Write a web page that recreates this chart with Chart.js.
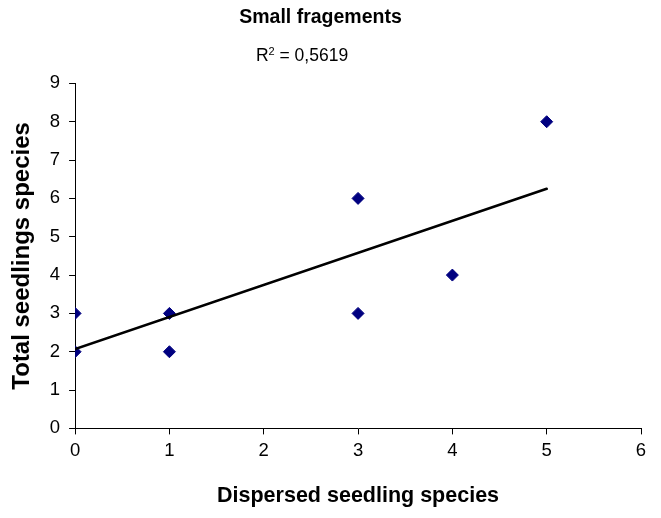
<!DOCTYPE html>
<html>
<head>
<meta charset="utf-8">
<script src="https://cdn.jsdelivr.net/npm/chart.js@4.4.0/dist/chart.umd.min.js"></script>
<style>
  body { margin: 0; background: #fff; }
  canvas { display: block; }
</style>
</head>
<body>
<canvas id="chart" width="661" height="518"></canvas>
<script>
// data
const dispersed = [0, 0, 1, 1, 3, 3, 4, 5];
const totalSpecies = [2, 3, 2, 3, 3, 6, 4, 8];
const trendX = [0, 5];
const trendY = [2.07, 6.25];
const rSquared = "0,5619";

const font = "'Liberation Sans', Arial, sans-serif";

const points = dispersed.map((x, i) => ({ x: x, y: totalSpecies[i] }));
const trend = trendX.map((x, i) => ({ x: x, y: trendY[i] }));

// R² label above the plot
const r2Label = {
    id: "r2Label",
    afterDraw(chart) {
        const ctx = chart.ctx;
        ctx.save();
        ctx.fillStyle = "#000";
        ctx.textBaseline = "alphabetic";
        ctx.textAlign = "left";
        ctx.font = "17.5px " + font;
        const rest = " = " + rSquared;
        const wR = ctx.measureText("R").width;
        const wRest = ctx.measureText(rest).width;
        ctx.font = "11px " + font;
        const w2 = ctx.measureText("2").width;
        const total = wR + w2 + wRest;
        let x = 302 - total / 2;
        const base = 61;
        ctx.font = "17.5px " + font;
        ctx.fillText("R", x, base);
        x += wR;
        ctx.font = "11px " + font;
        ctx.fillText("2", x, base - 6);
        x += w2;
        ctx.font = "17.5px " + font;
        ctx.fillText(rest, x, base);
        ctx.restore();
    }
};

new Chart(document.getElementById("chart"), {
    type: "scatter",
    data: {
        datasets: [
            {
                data: trend,
                type: "line",
                borderColor: "#000",
                borderWidth: 2.6,
                borderCapStyle: "round",
                pointRadius: 0,
                fill: false
            },
            {
                data: points,
                pointStyle: "rectRot",
                pointRadius: 6,
                pointBackgroundColor: "#000080",
                pointBorderColor: "#000080",
                pointBorderWidth: 1
            }
        ]
    },
    options: {
        responsive: false,
        animation: false,
        layout: { padding: { left: 0, right: 20, top: 0, bottom: 0 } },
        plugins: {
            legend: { display: false },
            tooltip: { enabled: false },
            title: {
                display: true,
                text: "Small fragements",
                color: "#000",
                font: { family: font, size: 19.5, weight: "bold" },
                padding: { top: 6, bottom: 54 }
            }
        },
        scales: {
            x: {
                type: "linear",
                min: 0,
                max: 6,
                ticks: { stepSize: 1, color: "#000", font: { family: font, size: 18.5 }, padding: 5 },
                grid: { drawOnChartArea: false, color: "#000", tickLength: 6 },
                border: { color: "#000", width: 1 },
                title: {
                    display: true,
                    text: "Dispersed seedling species",
                    color: "#000",
                    font: { family: font, size: 21.5, weight: "bold" },
                    padding: { top: 17, bottom: 8.6 }
                }
            },
            y: {
                min: 0,
                max: 9,
                ticks: { stepSize: 1, color: "#000", font: { family: font, size: 18.5 }, padding: 9 },
                grid: { drawOnChartArea: false, color: "#000", tickLength: 6 },
                border: { color: "#000", width: 1 },
                title: {
                    display: true,
                    text: "Total seedlings species",
                    color: "#000",
                    font: { family: font, size: 24, weight: "bold" },
                    padding: { top: 8, bottom: 4 }
                }
            }
        }
    },
    plugins: [r2Label]
});
</script>
</body>
</html>
